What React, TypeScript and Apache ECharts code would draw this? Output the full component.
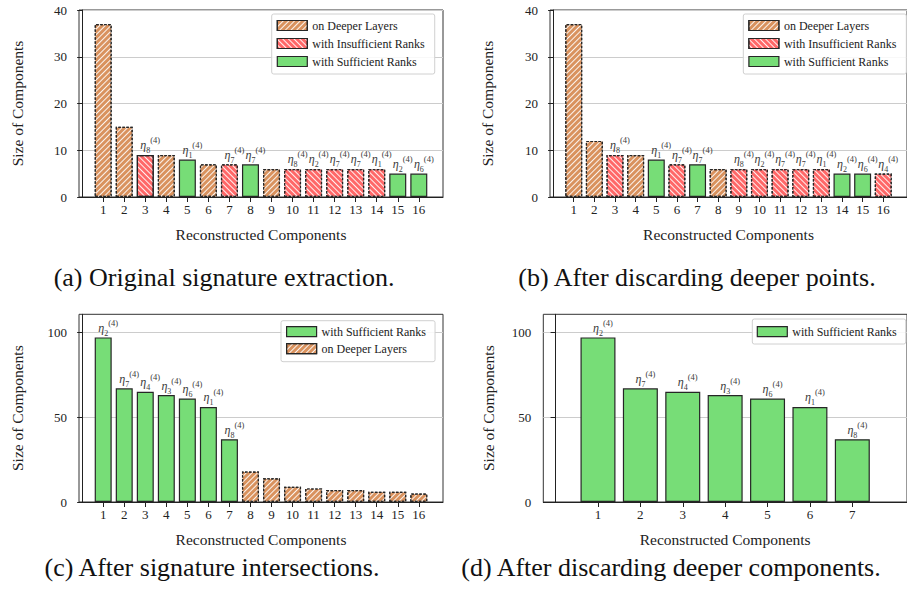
import React, { useEffect, useRef } from "react";
import * as echarts from "echarts";

// ---------- data ----------
const positions16 = [1, 2, 3, 4, 5, 6, 7, 8, 9, 10, 11, 12, 13, 14, 15, 16];
const positions7 = [1, 2, 3, 4, 5, 6, 7];

// (a) Original signature extraction
const valuesA = [37, 15, 9, 9, 8, 7, 7, 7, 6, 6, 6, 6, 6, 6, 5, 5];
const kindsA = ["D", "D", "I", "D", "S", "D", "I", "S", "D", "I", "I", "I", "I", "I", "S", "S"];
const etaA = ["", "", "8", "", "1", "", "7", "7", "", "8", "2", "7", "7", "1", "2", "6"];
const solidEdgeA = [3];

// (b) After discarding deeper points
const valuesB = [37, 12, 9, 9, 8, 7, 7, 6, 6, 6, 6, 6, 6, 5, 5, 5];
const kindsB = ["D", "D", "I", "D", "S", "I", "S", "D", "I", "I", "I", "I", "I", "S", "S", "I"];
const etaB = ["", "", "8", "", "1", "7", "7", "", "8", "2", "7", "7", "1", "2", "6", "4"];

// (c) After signature intersections
const valuesC = [97, 67, 65, 63, 61, 56, 37, 18, 14, 9, 8, 7, 7, 6, 6, 5];
const kindsC = ["S", "S", "S", "S", "S", "S", "S", "D", "D", "D", "D", "D", "D", "D", "D", "D"];
const etaC = ["2", "7", "4", "3", "6", "1", "8", "", "", "", "", "", "", "", "", ""];

// (d) After discarding deeper components
const valuesD = [97, 67, 65, 63, 61, 56, 37];
const kindsD = ["S", "S", "S", "S", "S", "S", "S"];
const etaD = ["2", "7", "4", "3", "6", "1", "8"];

const yTicksSmall = [0, 10, 20, 30, 40];
const yTicksLarge = [0, 50, 100];

const captions = [
  "(a) Original signature extraction.",
  "(b) After discarding deeper points.",
  "(c) After signature intersections.",
  "(d) After discarding deeper components.",
];

const NAME = {
  D: "on Deeper Layers",
  I: "with Insufficient Ranks",
  S: "with Sufficient Ranks",
};

// ---------- styles ----------
const FONT = "Liberation Serif";
const COL = { D: "#d9925e", I: "#ff6868", S: "#77dd77" };
const EDGE = "#262626";
const LABEL_COL = "#3a3a3a";

function itemStyleFor(k: string) {
  if (k === "S") {
    return { color: COL.S, borderColor: EDGE, borderWidth: 1.2, borderType: "solid" };
  }
  return {
    color: COL[k as "D" | "I"],
    borderColor: EDGE,
    borderWidth: 1.2,
    borderType: [2.5, 1.5],
    decal: {
      symbol: "rect",
      symbolSize: 1,
      dashArrayX: [1, 0],
      dashArrayY: [1, 2.6],
      rotation: k === "D" ? -Math.PI / 4 : Math.PI / 4,
      color: "rgba(255,255,255,0.9)",
    },
  };
}

const richEta = {
  eta: { fontFamily: FONT, fontStyle: "italic", fontSize: 12, color: LABEL_COL, lineHeight: 19 },
  sub: { fontFamily: FONT, fontSize: 8, color: LABEL_COL, lineHeight: 9, verticalAlign: "bottom" },
  sup: { fontFamily: FONT, fontSize: 8.5, color: LABEL_COL, lineHeight: 9, verticalAlign: "top" },
};

type Panel = {
  pos: number[];
  values: number[];
  kinds: string[];
  eta: string[];
  solid?: number[];
  order: string[];
  barWidth: number;
};

const panels: Panel[] = [
  { pos: positions16, values: valuesA, kinds: kindsA, eta: etaA, solid: solidEdgeA, order: ["D", "I", "S"], barWidth: 17 },
  { pos: positions16, values: valuesB, kinds: kindsB, eta: etaB, order: ["D", "I", "S"], barWidth: 17 },
  { pos: positions16, values: valuesC, kinds: kindsC, eta: etaC, order: ["S", "D"], barWidth: 17 },
  { pos: positions7, values: valuesD, kinds: kindsD, eta: etaD, order: ["S"], barWidth: 35 },
];

const grids = [
  { left: 79, top: 10, width: 364, height: 187 },
  { left: 550, top: 10, width: 365, height: 187 },
  { left: 79, top: 314.3, width: 364, height: 187.7 },
  { left: 543.3, top: 314.3, width: 378.4, height: 187.7 },
];
const xRanges = [
  [-0.15, 17.15],
  [-0.15, 17.15],
  [-0.15, 17.15],
  [-0.29, 8.29],
];
const yMax = [40, 40, 110.6, 110.6];
const legendPos = [
  { left: 271.7, top: 14, padding: [5.5, 10, 6.5, 5], itemGap: 6 },
  { left: 743.3, top: 14, padding: [5.5, 10, 6.5, 5], itemGap: 6 },
  { left: 281, top: 320.7, padding: [5, 9, 7, 5], itemGap: 5 },
  { left: 752.3, top: 319, padding: [6.7, 9, 6.3, 4.4], itemGap: 5 },
];
const captionPos = [
  [224, 277],
  [697, 277],
  [212, 567],
  [671, 567],
];

function buildOption() {
  const series: any[] = [];
  panels.forEach((p, idx) => {
    ["D", "I", "S"].forEach((k) => {
      if (!p.kinds.includes(k)) return;
      const data: any[] = [];
      p.kinds.forEach((kk, i) => {
        if (kk !== k) return;
        const item: any = { value: [p.pos[i], p.values[i]] };
        if (p.eta[i]) {
          item.label = { show: true, formatter: `{eta|η}{sub|${p.eta[i]}}{sup|(4)}` };
        }
        if (p.solid && p.solid.includes(p.pos[i])) {
          item.itemStyle = { borderType: "solid" };
        }
        data.push(item);
      });
      series.push({
        type: "bar",
        name: NAME[k as "D" | "I" | "S"],
        xAxisIndex: idx,
        yAxisIndex: idx,
        barWidth: p.barWidth,
        barGap: "-100%",
        itemStyle: itemStyleFor(k),
        label: {
          show: false,
          position: "top",
          distance: 0,
          offset: [5, 0],
          color: LABEL_COL,
          rich: richEta,
        },
        emphasis: { disabled: true },
        data,
      });
    });
  });

  const axisCommon = {
    axisLine: { show: true, lineStyle: { color: "#222", width: 1 } },
    axisTick: { show: true, inside: false, length: 5, lineStyle: { color: "#222", width: 1 } },
  };

  const xAxis = panels.map((p, idx) => ({
    type: "value",
    gridIndex: idx,
    min: xRanges[idx][0],
    max: xRanges[idx][1],
    ...axisCommon,
    axisTick: { ...axisCommon.axisTick, customValues: p.pos },
    axisLabel: { customValues: p.pos, fontFamily: FONT, fontSize: 13, color: "#222", margin: 6 },
    splitLine: { show: false },
    name: "Reconstructed Components",
    nameLocation: "middle",
    nameGap: 29,
    nameTextStyle: { fontFamily: FONT, fontSize: 15.5, color: "#222" },
  }));

  const yAxis = panels.map((p, idx) => {
    const ticks = idx < 2 ? yTicksSmall : yTicksLarge;
    return {
      type: "value",
      gridIndex: idx,
      min: 0,
      max: yMax[idx],
      ...axisCommon,
      axisTick: { ...axisCommon.axisTick, customValues: ticks },
      axisLabel: { customValues: ticks, fontFamily: FONT, fontSize: 13, color: "#222", margin: 12 },
      splitLine: { show: true, lineStyle: { color: "#cccccc", width: 1 } },
      name: "Size of Components",
      nameLocation: "middle",
      nameGap: idx === 3 ? 47 : idx === 1 ? 55 : 54,
      nameTextStyle: { fontFamily: FONT, fontSize: 15.5, color: "#222" },
    };
  });

  const legend = panels.map((p, idx) => ({
    show: true,
    orient: "vertical",
    left: legendPos[idx].left,
    top: legendPos[idx].top,
    padding: legendPos[idx].padding,
    itemGap: legendPos[idx].itemGap,
    itemWidth: 30,
    itemHeight: 10,
    selectedMode: false,
    backgroundColor: "rgba(255,255,255,0.85)",
    borderColor: "#d0d0d0",
    borderWidth: 1,
    borderRadius: 2,
    icon: "rect",
    textStyle: { fontFamily: FONT, fontSize: 12, color: "#222", lineHeight: 12 },
    itemStyle: { borderColor: EDGE, borderWidth: 1.2, borderType: "solid" },
    data: p.order.map((k) => NAME[k as "D" | "I" | "S"]),
  }));

  const graphic = captions.map((c, i) => ({
    type: "text",
    x: captionPos[i][0],
    y: captionPos[i][1],
    style: {
      text: c,
      fontFamily: FONT,
      fontSize: 26,
      fill: "#111",
      align: "center",
      verticalAlign: "middle",
    },
  }));

  return {
    animation: false,
    backgroundColor: "#ffffff",
    textStyle: { fontFamily: FONT },
    grid: grids.map((g) => ({ ...g, show: true, borderColor: "#333", borderWidth: 1, backgroundColor: "transparent", containLabel: false })),
    xAxis,
    yAxis,
    legend,
    series,
    graphic,
  };
}

export default function App() {
  const ref = useRef<HTMLDivElement>(null);
  useEffect(() => {
    if (!ref.current) return;
    const chart = echarts.init(ref.current, undefined, { renderer: "svg" });
    chart.setOption(buildOption() as any);
    return () => chart.dispose();
  }, []);
  return (
    <div
      ref={ref}
      style={{ position: "absolute", left: 0, top: 0, width: 907, height: 600, background: "#fff" }}
    />
  );
}
